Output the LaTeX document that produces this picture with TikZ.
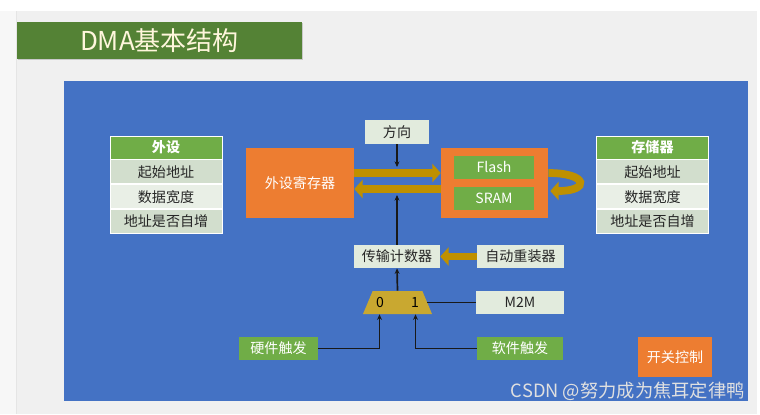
\documentclass[tikz,border=0pt]{standalone}
\usepackage{fontspec}
\setmainfont{Noto Sans CJK SC}
\usetikzlibrary{arrows.meta, shapes.geometric, positioning, calc, shadows}

\definecolor{slidebg}{HTML}{F0F0F0}
\definecolor{titlegreen}{HTML}{548235}
\definecolor{titletext}{HTML}{FFF6DC}
\definecolor{slideblue}{HTML}{4472C4}
\definecolor{boxorange}{HTML}{ED7D31}
\definecolor{boxgreen}{HTML}{70AD47}
\definecolor{rowdark}{HTML}{D2DECD}
\definecolor{rowlight}{HTML}{E9EFE6}
\definecolor{paleface}{HTML}{E2EBDD}
\definecolor{busgold}{HTML}{BF9000}
\definecolor{muxgold}{HTML}{C9A830}

\begin{document}
\begin{tikzpicture}[
  x=0.025cm, y=-0.025cm,
  node distance = 0pt,
  every node/.style = {font=\fontsize{10}{12}\selectfont, inner sep=0pt},
  titlebar/.style  = {rectangle, fill=titlegreen, text=titletext,
                      minimum width=7.125cm, minimum height=0.925cm,
                      font=\fontsize{18.5}{22}\selectfont,
                      drop shadow={shadow xshift=1pt, shadow yshift=-1pt, opacity=0.35}},
  thead/.style     = {rectangle, draw=white, line width=0.6pt, fill=boxgreen,
                      text=white, minimum width=2.8cm, minimum height=0.575cm,
                      font=\fontsize{10}{12}\selectfont\bfseries},
  trow/.style      = {rectangle, draw=white, line width=0.6pt, text=black!85,
                      minimum width=2.8cm, minimum height=0.6cm},
  pale/.style      = {rectangle, fill=paleface, text=black!85, minimum height=0.575cm},
  orangebox/.style = {rectangle, fill=boxorange, text=white},
  greenbox/.style  = {rectangle, fill=boxgreen, text=white, minimum height=0.575cm},
  mux/.style       = {trapezium, trapezium stretches=true, fill=muxgold, inner sep=2pt,
                      trapezium left angle=79, trapezium right angle=79,
                      minimum width=1.725cm, minimum height=0.575cm},
  bus/.style       = {-{Triangle[length=6pt,width=13pt]}, line width=5.5pt, draw=busgold},
  sig/.style       = {-{Stealth[length=4pt,width=3.5pt]}, line width=1.2pt, draw=black!90},
  wire/.style      = {line width=1.2pt, draw=black!90},
]
\useasboundingbox (0,0) rectangle (760,414);

%% ── Slide background ─────────────────────────────────────────────────────
\fill[white]      (0,0)   rectangle (760,414);
\fill[black!3]    (0,11)  rectangle (16,414);
\fill[slidebg]    (16,11) rectangle (757,414);
\draw[black!10]   (16,11) -- (16,414);
\fill[slideblue]  (64,81) rectangle (748,401);

\node[titlebar] (title) at (159.5,40.5) {DMA基本结构};

%% ── Tables: peripheral / memory ─────────────────────────────────────────
\node[thead] (lhead) at (166,147.5) {外设};
\node[trow, fill=rowdark,  below=of lhead] (lrow1) {起始地址};
\node[trow, fill=rowlight, below=of lrow1] (lrow2) {数据宽度};
\node[trow, fill=rowdark,  below=of lrow2] (lrow3) {地址是否自增};

\node[thead] (rhead) at (652.5,147.5) {存储器};
\node[trow, fill=rowdark,  below=of rhead] (rrow1) {起始地址};
\node[trow, fill=rowlight, below=of rrow1] (rrow2) {数据宽度};
\node[trow, fill=rowdark,  below=of rrow2] (rrow3) {地址是否自增};

%% ── Data path ────────────────────────────────────────────────────────────
\node[orangebox, minimum width=2.7cm, minimum height=1.75cm] (reg) at (300,183) {外设寄存器};
\node[orangebox, minimum width=2.675cm, minimum height=1.75cm] (mem) at (494.5,183) {};
\node[greenbox, minimum width=2cm] (flash) at (494,167) {Flash};
\node[greenbox, minimum width=2cm] (sram)  at (494,198.5) {SRAM};
\node[pale, minimum width=1.6cm, minimum height=0.6cm] (dir) at (397,132) {方向};

\coordinate (dirtip) at (397,167);
\coordinate (cnttip) at (397,195);

%% ── Control path ─────────────────────────────────────────────────────────
\node[pale, minimum width=2.15cm]  (cnt)    at (397,256.5) {传输计数器};
\node[pale, minimum width=2.175cm] (reload) at (520.5,256.5) {自动重装器};
\node[mux] (sel) at (397.5,302.5) {};
\node (sel0) at (380,302.5) {0};
\node (sel1) at (415,302.5) {1};
\node[pale, minimum width=2.2cm]   (m2m)    at (520,302.5) {M2M};
\node[greenbox, minimum width=1.975cm] (hw) at (278.5,348.5) {硬件触发};
\node[greenbox, minimum width=2.15cm]  (sw) at (520,348.5) {软件触发};
\node[orangebox, minimum width=1.85cm, minimum height=1cm] (onoff) at (675,357) {开关控制};

\node[text=white!88!black, font=\fontsize{13}{15}\selectfont, anchor=east] (mark) at (745,391) {CSDN @努力成为焦耳定律鸭};

%% ── Bus arrows ───────────────────────────────────────────────────────────
\draw[bus] ($(reg.east)+(0,-10)$) -- ($(mem.west)+(0,-10)$);
\draw[bus] ($(mem.west)+(0,6)$)   -- ($(reg.east)+(0,6)$);
\draw[bus] ($(mem.east)+(0,-10)$) .. controls +(40,0) and +(40,0) .. ($(mem.east)+(2,8)$);
\draw[bus] (reload.west) -- (cnt.east);

%% ── Signal lines ─────────────────────────────────────────────────────────
\draw[sig]  (dir.south) -- (dirtip);
\draw[sig]  (cnt.north) -- (cnttip);
\draw[sig]  (sel.north) -- (cnt.south);
\draw[wire] (sel.east)  -- (m2m.west);
\draw[sig]  (hw.east) -| ($(sel.south)+(-18,0)$);
\draw[sig]  (sw.west) -| ($(sel.south)+(18,0)$);

\end{tikzpicture}
\end{document}
